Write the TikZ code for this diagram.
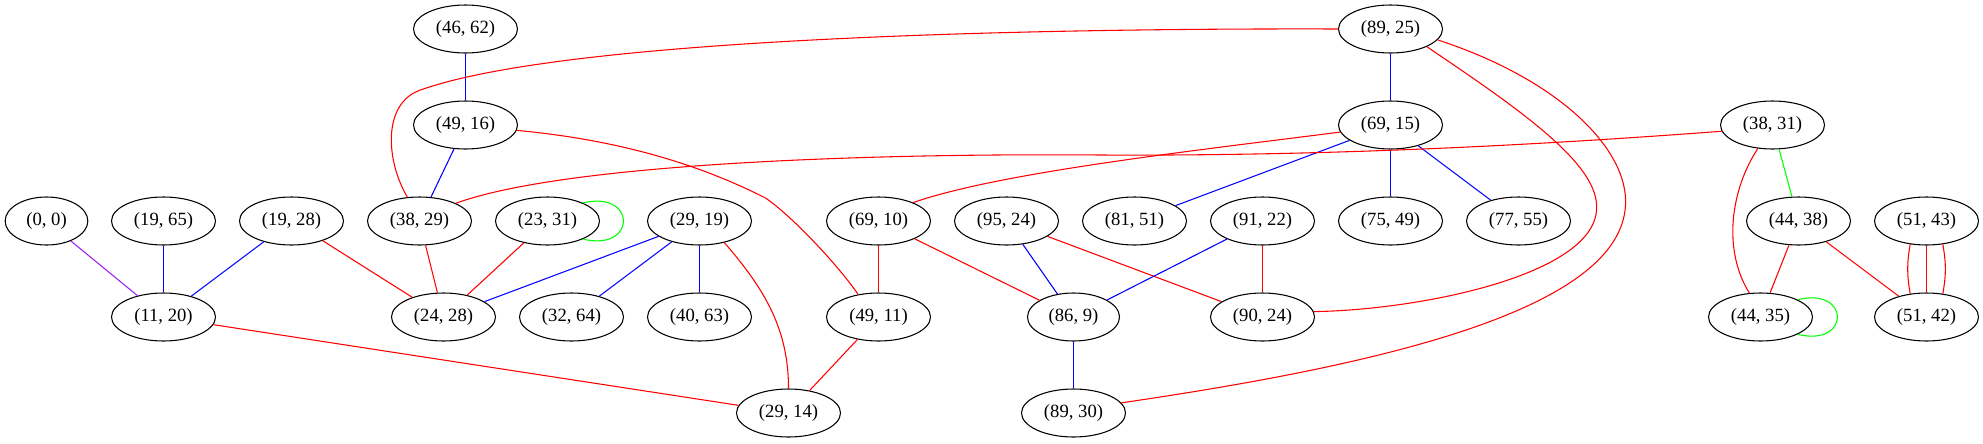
\documentclass[tikz,border=0pt]{standalone}
\usepackage{fontspec}
\setmainfont{Liberation Serif}
\usepackage{xcolor}
\usetikzlibrary{shapes.geometric}
\definecolor{gvred}{HTML}{FF0000}
\definecolor{gvblue}{HTML}{0000FF}
\definecolor{gvgreen}{HTML}{00FF00}
\definecolor{gvpurple}{HTML}{A020F0}

\begin{document}
\begin{tikzpicture}[x=0.75pt, y=-0.75pt,
    vertex/.style={ellipse, draw, line width=0.8pt, inner sep=0pt,
        minimum width=78pt, minimum height=36pt,
        font=\fontsize{14pt}{16pt}\selectfont},
    redline/.style={gvred, line width=0.8pt},
    blueline/.style={gvblue, line width=0.8pt},
    greenline/.style={gvgreen, line width=0.8pt},
    purpleline/.style={gvpurple, line width=0.8pt}]
    \useasboundingbox (0,0) rectangle (1983,443);

    \begin{scope}[xshift=0.375pt]
    % Top rows
    \node[vertex] (p4662) at (465,29) {(46, 62)};
    \node[vertex] (p8925) at (1390,29) {(89, 25)};
    \node[vertex] (p4916) at (465,125) {(49, 16)};
    \node[vertex] (p6915) at (1390,125) {(69, 15)};
    \node[vertex] (p3831) at (1772,125) {(38, 31)};

    % Middle row
    \node[vertex, minimum width=62pt] (p00) at (46,221) {(0, 0)};
    \node[vertex] (p1965) at (163,221) {(19, 65)};
    \node[vertex] (p1928) at (291,221) {(19, 28)};
    \node[vertex] (p3829) at (419,221) {(38, 29)};
    \node[vertex] (p2331) at (547,221) {(23, 31)};
    \node[vertex] (p2919) at (699,221) {(29, 19)};
    \node[vertex] (p6910) at (878,221) {(69, 10)};
    \node[vertex] (p9524) at (1006,221) {(95, 24)};
    \node[vertex] (p8151) at (1134,221) {(81, 51)};
    \node[vertex] (p9122) at (1262,221) {(91, 22)};
    \node[vertex] (p7549) at (1390,221) {(75, 49)};
    \node[vertex] (p7755) at (1518,221) {(77, 55)};
    \node[vertex] (p4438) at (1798,221) {(44, 38)};
    \node[vertex] (p5143) at (1926,221) {(51, 43)};

    % Lower rows
    \node[vertex] (p1120) at (163,317) {(11, 20)};
    \node[vertex] (p2428) at (443,317) {(24, 28)};
    \node[vertex] (p3264) at (571,317) {(32, 64)};
    \node[vertex] (p4063) at (699,317) {(40, 63)};
    \node[vertex] (p4911) at (878,317) {(49, 11)};
    \node[vertex, minimum width=69pt] (p869) at (1073,317) {(86, 9)};
    \node[vertex] (p9024) at (1262,317) {(90, 24)};
    \node[vertex] (p4435) at (1760,317) {(44, 35)};
    \node[vertex] (p5142) at (1926,317) {(51, 42)};
    \node[vertex] (p2914) at (788,413) {(29, 14)};
    \node[vertex] (p8930) at (1073,413) {(89, 30)};

    % Straight edges
    \draw[blueline] (p4662) -- (p4916);
    \draw[blueline] (p4916) -- (p3829);
    \draw[blueline] (p8925) -- (p6915);
    \draw[blueline] (p6915) -- (p8151);
    \draw[blueline] (p6915) -- (p7549);
    \draw[blueline] (p6915) -- (p7755);
    \draw[greenline] (p3831) -- (p4438);
    \draw[redline] (p4438) -- (p4435);
    \draw[redline] (p4438) -- (p5142);
    \draw[purpleline] (p00) -- (p1120);
    \draw[blueline] (p1965) -- (p1120);
    \draw[blueline] (p1928) -- (p1120);
    \draw[redline] (p1928) -- (p2428);
    \draw[redline] (p3829) -- (p2428);
    \draw[redline] (p2331) -- (p2428);
    \draw[blueline] (p2919) -- (p2428);
    \draw[blueline] (p2919) -- (p3264);
    \draw[blueline] (p2919) -- (p4063);
    \draw[redline] (p1120) -- (p2914);
    \draw[redline] (p4911) -- (p2914);
    \draw[redline] (p6910) -- (p4911);
    \draw[redline] (p6910) -- (p869);
    \draw[blueline] (p9524) -- (p869);
    \draw[redline] (p9524) -- (p9024);
    \draw[blueline] (p9122) -- (p869);
    \draw[redline] (p9122) -- (p9024);
    \draw[blueline] (p869) -- (p8930);

    % Curved edges
    \draw[redline] (p8925.west) .. controls (1000,28) and (560,40) .. (420,90)
        .. controls (382,103) and (385,160) .. (p3829.117);
    \draw[redline] (p3831.187) .. controls (1500,148) and (1300,156) .. (1100,155)
        .. controls (850,153) and (560,165) .. (p3829.26);
    \draw[redline] (p4916.-6) .. controls (620,140) and (700,165) .. (765,198)
        .. controls (790,215) and (835,262) .. (p4911.132);
    \draw[redline] (p6915.188) .. controls (1200,150) and (1000,172) .. (p6910.28);
    \draw[redline] (p8925.-26) .. controls (1520,110) and (1600,165) .. (1596,210)
        .. controls (1592,275) and (1420,310) .. (p9024.6);
    \draw[redline] (p8925.-13) .. controls (1560,80) and (1628,150) .. (1625,205)
        .. controls (1620,310) and (1380,365) .. (p8930.12);
    \draw[redline] (p3831.238) .. controls (1730,190) and (1722,250) .. (p4435.115);
    \draw[redline] (p2919.-41) .. controls (765,290) and (788,330) .. (p2914.north);

    % Parallel edges
    \draw[redline] (p5143.-125) to[bend right=10] (p5142.125);
    \draw[redline] (p5143.south) -- (p5142.north);
    \draw[redline] (p5143.-55) to[bend left=10] (p5142.55);

    % Self loops
    \draw[greenline] (p2331.27) .. controls +(54,-13) and +(54,13) .. (p2331.-27);
    \draw[greenline] (p4435.25) .. controls +(53,-13) and +(53,13) .. (p4435.-25);
    \end{scope}
\end{tikzpicture}
\end{document}
